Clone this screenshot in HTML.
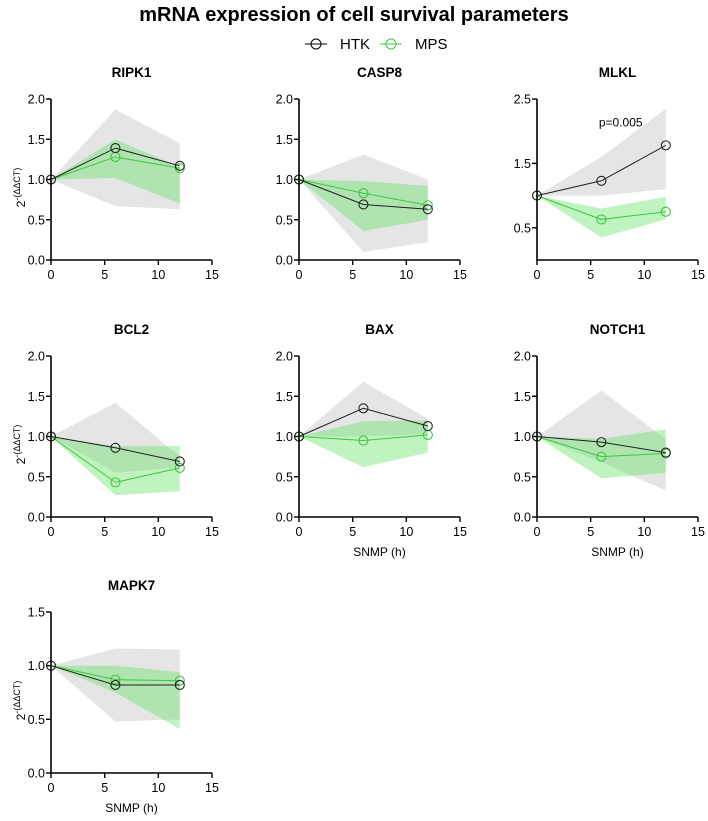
<!DOCTYPE html>
<html><head><meta charset="utf-8"><style>
body{margin:0;background:#fff;}
svg{display:block;font-family:"Liberation Sans",sans-serif;}
</style></head><body>
<svg id="chart" width="708" height="821" viewBox="0 0 708 821">
<text x="354" y="21" text-anchor="middle" font-size="20" font-weight="bold">mRNA expression of cell survival parameters</text>
<g>
<g>
<line x1="305" y1="44" x2="327" y2="44" stroke="#000" stroke-width="1"/><circle cx="316" cy="44" r="5" fill="none" stroke="#000"/>
<text x="340" y="49" font-size="15">HTK</text></g>
<g>
<line x1="380" y1="44" x2="402" y2="44" stroke="#3cc83c" stroke-width="1"/><circle cx="391" cy="44" r="5" fill="none" stroke="#3cc83c"/>
<text x="415" y="49" font-size="15">MPS</text></g>
</g>
</svg>
<script>
const times=[0,6,12];
const xTicks=[0,5,10,15];
const panelNames=["RIPK1","CASP8","MLKL","BCL2","BAX","NOTCH1","MAPK7"];
const htkMean=[[1,1.39,1.17],[1,0.69,0.63],[1,1.23,1.78],[1,0.86,0.69],[1,1.35,1.13],[1,0.93,0.8],[1,0.82,0.82]];
const htkUpper=[[1,1.87,1.45],[1,1.31,1.0],[1,1.6,2.35],[1,1.42,0.75],[1,1.68,1.22],[1,1.57,0.97],[1,1.16,1.15]];
const htkLower=[[1,0.67,0.63],[1,0.1,0.22],[1,1.0,1.1],[1,0.55,0.62],[1,1.0,1.03],[1,0.68,0.33],[1,0.48,0.5]];
const mpsMean=[[1,1.28,1.14],[1,0.83,0.68],[1,0.63,0.75],[1,0.43,0.61],[1,0.95,1.02],[1,0.75,0.79],[1,0.87,0.86]];
const mpsUpper=[[1,1.5,1.15],[1,0.98,0.92],[1,0.8,0.98],[1,0.88,0.88],[1,1.19,1.2],[1,0.97,1.09],[1,1.0,0.94]];
const mpsLower=[[1,1.02,0.7],[1,0.36,0.5],[1,0.35,0.63],[1,0.27,0.32],[1,0.62,0.8],[1,0.48,0.55],[1,0.75,0.41]];
const yMaxes=[2,2,2.5,2,2,2,1.5];
const yTickSets=[[0,0.5,1,1.5,2],[0,0.5,1,1.5,2],[0.5,1.5,2.5],[0,0.5,1,1.5,2],[0,0.5,1,1.5,2],[0,0.5,1,1.5,2],[0,0.5,1,1.5]];
const yTickLabels=[["0.0","0.5","1.0","1.5","2.0"],["0.0","0.5","1.0","1.5","2.0"],["0.5","1.5","2.5"],["0.0","0.5","1.0","1.5","2.0"],["0.0","0.5","1.0","1.5","2.0"],["0.0","0.5","1.0","1.5","2.0"],["0.0","0.5","1.0","1.5"]];
const annotations=["","","p=0.005","","","",""];
const NS="http://www.w3.org/2000/svg";
const svg=document.getElementById('chart');
const origins=[[51,260],[299,260],[537,260],[51,517],[299,517],[537,517],[51,773]];
const W=161,H=161;
function mk(tag,attrs,parent){const e=document.createElementNS(NS,tag);for(const k in attrs)e.setAttribute(k,attrs[k]);parent.appendChild(e);return e;}
panelNames.forEach((name,i)=>{
  const [ox,oy]=origins[i];
  const xs=v=>ox+v/15*W;
  const ys=v=>oy-v/yMaxes[i]*H;
  const g=mk('g',{},svg);
  
  
  const t=mk('text',{x:ox+W/2,y:oy-H-22,'text-anchor':'middle','font-size':'13.5','font-weight':'bold'},g);
  t.textContent=name;
  
  
  function band(up,lo,fill,op,nm){
    const pts=times.map((tt,j)=>xs(tt)+','+ys(up[j])).concat(times.slice().reverse().map((tt,jj)=>{const j=times.length-1-jj;return xs(tt)+','+ys(lo[j]);}));
    const p=mk('polygon',{points:pts.join(' '),fill:fill,'fill-opacity':op},g);
    
    
  }
  band(htkUpper[i],htkLower[i],'#d0d0d0',0.55,'htk-band');
  band(mpsUpper[i],mpsLower[i],'#5ee05e',0.4,'mps-band');
  function series(vals,col,nm){
    const pl=mk('polyline',{points:times.map((tt,j)=>xs(tt)+','+ys(vals[j])).join(' '),fill:'none',stroke:col,'stroke-width':1},g);
    
    
    times.forEach((tt,j)=>{
      const c=mk('circle',{cx:xs(tt),cy:ys(vals[j]),r:4.5,fill:'none',stroke:col,'stroke-width':1.1},g);
      
      
    });
  }
  series(mpsMean[i],'#3cc83c','mps');
  series(htkMean[i],'#222','htk');
  const ax=mk('path',{d:`M${ox},${oy-H} V${oy} H${ox+W}`,fill:'none',stroke:'#000','stroke-width':1.6},g);
  
  
  xTicks.forEach(v=>{
    mk('line',{x1:xs(v),y1:oy,x2:xs(v),y2:oy+5,stroke:'#000','stroke-width':1.4},g);
    const tx=mk('text',{x:xs(v),y:oy+19,'text-anchor':'middle','font-size':'12.5'},g);
    tx.textContent=v;
    
    
  });
  yTickSets[i].forEach((v,k)=>{
    mk('line',{x1:ox-5,y1:ys(v),x2:ox,y2:ys(v),stroke:'#000','stroke-width':1.4},g);
    const ty=mk('text',{x:ox-6,y:ys(v)+4.5,'text-anchor':'end','font-size':'12.5'},g);
    ty.textContent=yTickLabels[i][k];
    
    
  });
  if(annotations[i]){
    const a=mk('text',{x:ox+W*0.52,y:ys(2.07),'text-anchor':'middle','font-size':'12'},g);
    a.textContent=annotations[i];
    
    
  }
  if(i%3===0){
    const yl=mk('text',{transform:`translate(${ox-26},${oy-H/2+8}) rotate(-90)`,'text-anchor':'middle','font-size':'12'},g);
    
    
    yl.innerHTML='2<tspan dy="-5" font-size="9">-(ΔΔCT)</tspan>';
  }
  if(i>=4){
    const xl=mk('text',{x:ox+W/2,y:oy+39,'text-anchor':'middle','font-size':'12'},g);
    xl.textContent='SNMP (h)';
    
    
  }
});
</script>
</body></html>
